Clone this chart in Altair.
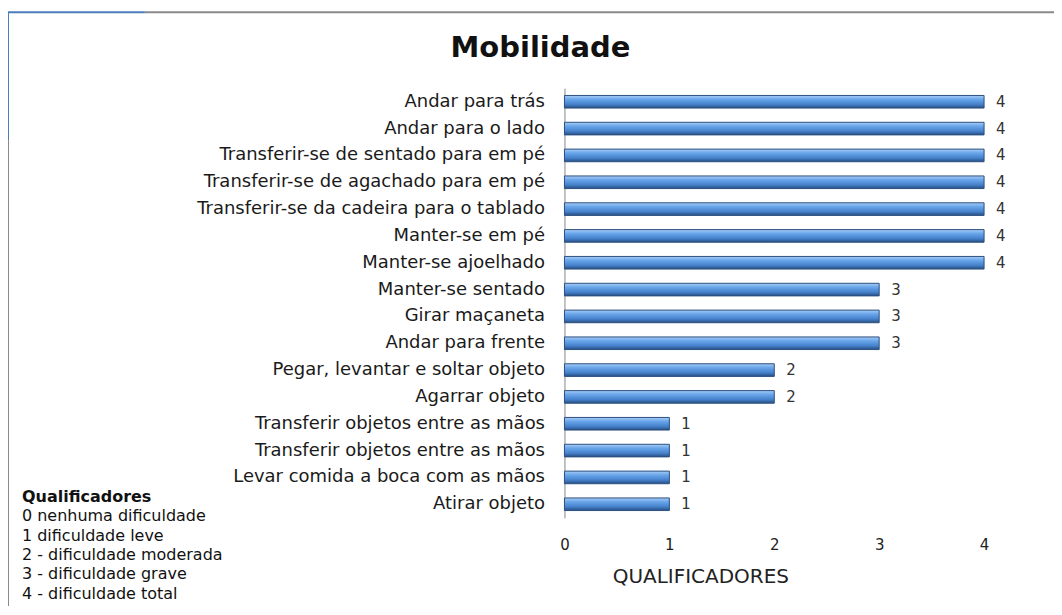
import altair as alt
import pandas as pd

categories = [
    "Andar para trás",
    "Andar para o lado",
    "Transferir-se de sentado para em pé",
    "Transferir-se de agachado para em pé",
    "Transferir-se da cadeira para o tablado",
    "Manter-se em pé",
    "Manter-se ajoelhado",
    "Manter-se sentado",
    "Girar maçaneta",
    "Andar para frente",
    "Pegar, levantar e soltar objeto",
    "Agarrar objeto",
    "Transferir objetos entre as mãos",
    "Transferir objetos entre as mãos\u200b",
    "Levar comida a boca com as mãos",
    "Atirar objeto",
]
values = [4, 4, 4, 4, 4, 4, 4, 3, 3, 3, 2, 2, 1, 1, 1, 1]
x_ticks = [0, 1, 2, 3, 4]
chart_title = "Mobilidade"
legend_title = "Qualificadores"
legend_lines = [
    "0   nenhuma dificuldade",
    "1   dificuldade leve",
    "2 - dificuldade moderada",
    "3 - dificuldade grave",
    "4 - dificuldade total",
]

FONT = "DejaVu Sans"
df = pd.DataFrame({"cat": categories, "val": values})

y_enc = alt.Y("cat:N", sort=categories, title=None,
              scale=alt.Scale(paddingInner=0.53, paddingOuter=0.27),
              axis=alt.Axis(domain=True, domainColor="#888888", ticks=False,
                            labelFontSize=18, labelColor="#1a1a1a", labelFont=FONT,
                            labelPadding=20, labelLimit=540))
x_enc = alt.X("val:Q", scale=alt.Scale(domain=[0, 4], nice=False),
              axis=alt.Axis(values=x_ticks, format="d", grid=False, domain=False, ticks=False,
                            labelFontSize=15, labelColor="#222222", labelFont=FONT,
                            labelPadding=20, labelFlush=False,
                            title="QUALIFICADORES", titleFont=FONT, titleFontSize=20,
                            titleFontWeight="normal", titleColor="#222222",
                            titleX=136, titleY=59, titleBaseline="middle",
                            titleAnchor="middle", titleAlign="center"))

grad = alt.Gradient(
    gradient="linear", x1=0, y1=0, x2=0, y2=1,
    stops=[alt.GradientStop(color="#a9cdf5", offset=0),
           alt.GradientStop(color="#6aa6ea", offset=0.3),
           alt.GradientStop(color="#4682cc", offset=0.7),
           alt.GradientStop(color="#274e82", offset=1)])

bars = alt.Chart(df).mark_bar(color=grad, stroke="#2b4f80", strokeWidth=1).encode(
    x=x_enc, y=y_enc)

labels = alt.Chart(df).mark_text(align="left", dx=12, fontSize=15, font=FONT,
                                 color="#333333").encode(
    x="val:Q", y=alt.Y("cat:N", sort=categories), text="val:Q")

title_df = pd.DataFrame({"t": [chart_title]})
title_mark = alt.Chart(title_df).mark_text(
    align="center", baseline="middle", fontSize=29, font=FONT, fontWeight="bold",
    color="#111111").encode(x=alt.value(-24), y=alt.value(-40), text="t:N")

leg_layers = []
leg_texts = [legend_title] + legend_lines
for i, t in enumerate(leg_texts):
    leg_layers.append(
        alt.Chart(pd.DataFrame({"t": [t]})).mark_text(
            align="left", baseline="middle", fontSize=16, font=FONT,
            fontWeight="bold" if i == 0 else "normal", color="#111111").encode(
            x=alt.value(-543), y=alt.value(409 + i * 19.4), text="t:N"))

one = df.iloc[:1]
frame_gray_top = alt.Chart(one).mark_rule(color="#8a8a8a", strokeWidth=2).encode(
    x=alt.value(-420), x2=alt.value(497), y=alt.value(-76))
frame_blue_top = alt.Chart(one).mark_rule(color="#4a7ebb", strokeWidth=2).encode(
    x=alt.value(-558), x2=alt.value(-420), y=alt.value(-76))
frame_gray_left = alt.Chart(one).mark_rule(color="#8a8a8a", strokeWidth=2).encode(
    x=alt.value(-557), y=alt.value(52), y2=alt.value(527))
frame_blue_left = alt.Chart(one).mark_rule(color="#4a7ebb", strokeWidth=2).encode(
    x=alt.value(-557), y=alt.value(-76), y2=alt.value(52))

chart = alt.layer(
    frame_gray_top, frame_blue_top, frame_gray_left, frame_blue_left,
    bars, labels, title_mark, *leg_layers
).properties(
    width=420, height=430,
    background="white",
    autosize=alt.AutoSizeParams(type="none"),
    padding={"left": 557, "top": 80, "right": 70, "bottom": 88},
).configure_view(stroke=None, strokeWidth=0)

chart.save("out.html", embed_options={"renderer": "svg", "actions": False})
